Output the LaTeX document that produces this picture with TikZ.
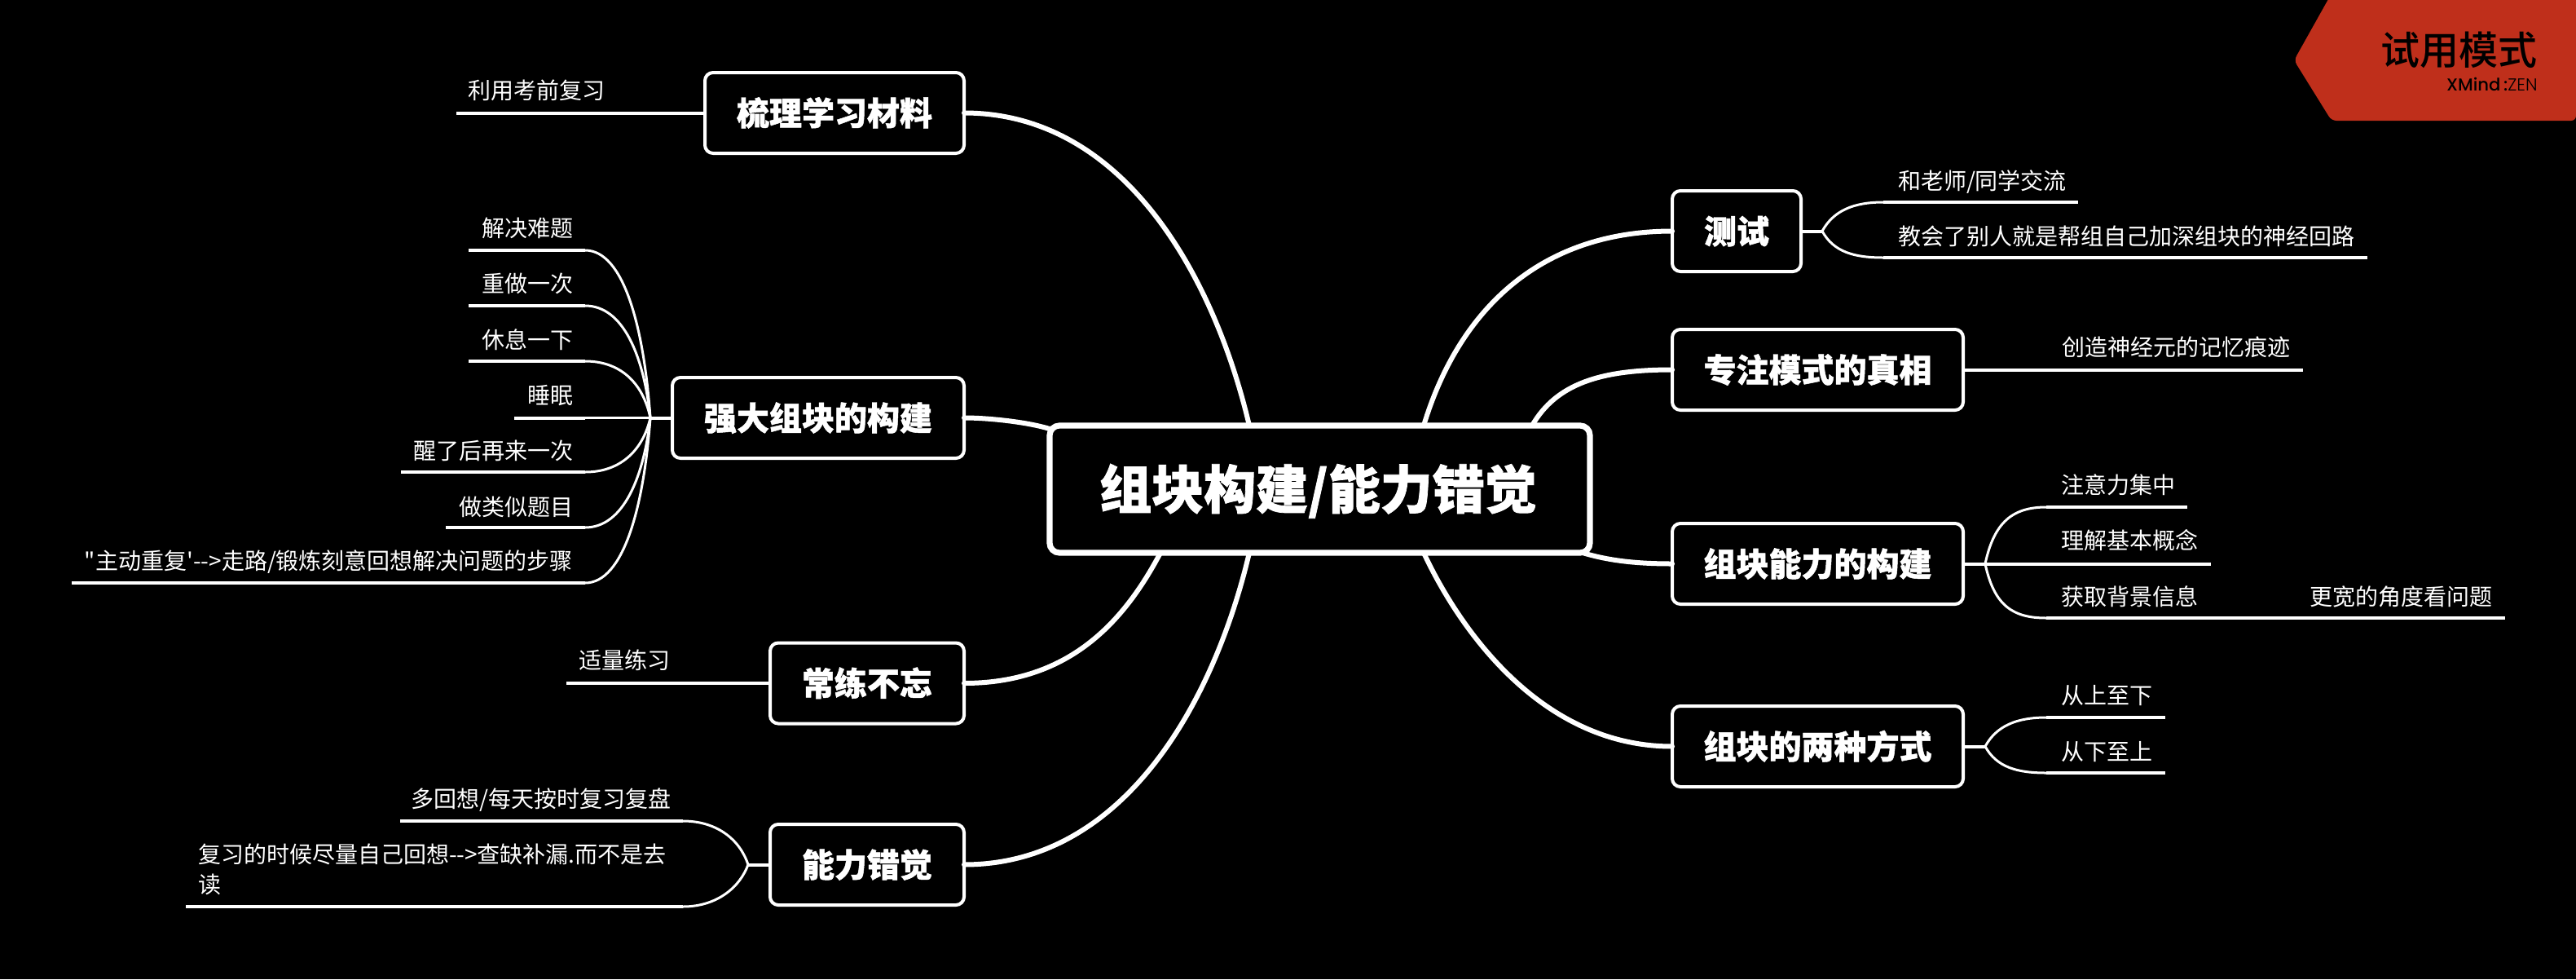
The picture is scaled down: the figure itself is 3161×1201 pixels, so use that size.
\documentclass[tikz,border=0pt]{standalone}
\usepackage{fontspec}
\setmainfont{Noto Sans CJK SC}
\newfontfamily\cjk{Noto Sans CJK SC}
\newfontfamily\cjkm{Noto Sans CJK SC Medium}
\newfontfamily\cjkb[FakeBold=1.2]{Noto Sans CJK SC Black}
\newfontfamily\popb{Poppins Medium}
\newfontfamily\popl{Poppins Light}
\definecolor{badge}{HTML}{BF2F1B}
\tikzset{
  centre/.style={draw=white,fill=black,line width=3.6pt,rounded corners=6pt,inner sep=0pt,outer sep=0pt,
    minimum width=331.5pt,minimum height=78pt,text=white,font=\cjkb\fontsize{32}{36}\selectfont,text height=28pt,text depth=4pt},
  topic/.style={draw=white,fill=black,line width=2pt,rounded corners=5pt,inner sep=0pt,outer sep=0pt,
    minimum height=49.5pt,text=white,font=\cjkb\fontsize{20}{24}\selectfont,text height=17.6pt,text depth=2.4pt},
  leaf/.style={text=white,inner sep=0pt,outer sep=0pt,font=\cjk\fontsize{14}{18.5}\selectfont,text height=12.3pt,text depth=1.7pt},
  link/.style={draw=white,line width=3pt,line cap=round},
  twig/.style={draw=white,line width=1.5pt},
  rule/.style={draw=white,line width=2pt},
}
\begin{document}
\begin{tikzpicture}[x=0.5pt,y=-0.5pt]
\useasboundingbox (0,0) rectangle (3161,1201);
\fill[black] (0,0) rectangle (3161,1201);

% badge
\fill[badge,rounded corners=3pt] (2861,-8) -- (3161,-8) -- (3161,148) -- (2861,148) -- (2815,74) -- cycle;
\node[inner sep=0pt,anchor=east,text=black,font=\cjkm\fontsize{24}{28}\selectfont,text height=21pt,text depth=3pt] (badgetitle) at (3114,61) {试用模式};
\node[inner sep=0pt,anchor=east,text=black,font=\fontsize{10.6}{12}\selectfont] (badgebrand) at (3114,103) {{\popb XMind}{\popb\,:}{\popl ZEN}};

% central and main topics
\node[centre] (c) at (1619.5,600) {\hspace*{-2pt}组块构建/能力错觉};
\node[topic,minimum width=79pt]   (t1) at (2131,283.5)   {测试};
\node[topic,minimum width=178.5pt] (t2) at (2230.5,453.5) {专注模式的真相};
\node[topic,minimum width=178.5pt] (t3) at (2230.5,691.5) {组块能力的构建};
\node[topic,minimum width=178.5pt] (t4) at (2230.5,915.5) {组块的两种方式};
\node[topic,minimum width=159pt]   (l1) at (1024,138.5)   {梳理学习材料};
\node[topic,minimum width=179pt]   (l2) at (1004,512.5)   {强大组块的构建};
\node[topic,minimum width=119pt]   (l3) at (1064,838)     {常练不忘};
\node[topic,minimum width=119pt]   (l4) at (1064,1060.5)  {能力错觉};

% attachment points on the central box
\coordinate (cl1) at (1533,522);
\coordinate (cl2) at (1288,526);
\coordinate (cl3) at (1424,678);
\coordinate (cl4) at (1533,678);
\coordinate (ct1) at (1747,522);
\coordinate (ct2) at (1880,522);
\coordinate (ct3) at (1942,678);
\coordinate (ct4) at (1747,678);

% central connectors
\draw[link] (l1.east) .. controls (1380,138.5) and (1490,340) .. (cl1);
\draw[link] (l2.east) .. controls (1215,512.5) and (1262,518) .. (cl2);
\draw[link] (l3.east) .. controls (1310,838) and (1378,765) .. (cl3);
\draw[link] (l4.east) .. controls (1380,1060.5) and (1490,860) .. (cl4);
\draw[link] (t1.west) .. controls (1890,283.5) and (1790,380) .. (ct1);
\draw[link] (t2.west) .. controls (1965,453.5) and (1910,470) .. (ct2);
\draw[link] (t3.west) .. controls (2010,691.5) and (1975,688) .. (ct3);
\draw[link] (t4.west) .. controls (1890,915.5) and (1790,770) .. (ct4);

% right side leaves
\node[leaf,anchor=west] (a1) at (2329,222) {和老师/同学交流};
\node[leaf,anchor=west] (a2) at (2329,290) {教会了别人就是帮组自己加深组块的神经回路};
\node[leaf,anchor=west] (b1) at (2530,426) {创造神经元的记忆痕迹};
\node[leaf,anchor=west] (d1) at (2529,595) {注意力集中};
\node[leaf,anchor=west] (d2) at (2529,663) {理解基本概念};
\node[leaf,anchor=west] (d3) at (2529,732) {获取背景信息};
\node[leaf,anchor=west] (d4) at (2834,732) {更宽的角度看问题};
\node[leaf,anchor=west] (e1) at (2529,853) {从上至下};
\node[leaf,anchor=west] (e2) at (2529,922) {从下至上};

\coordinate (ja) at (2236,283.5);
\coordinate (jd) at (2436,691.5);
\coordinate (je) at (2436,915.5);
\draw[rule] (t1.east) -- (ja);
\draw[rule] (t3.east) -- (jd);
\draw[rule] (t4.east) -- (je);
\coordinate (a1s) at (2311,248); \coordinate (a1e) at (2550,248);
\coordinate (a2s) at (2311,316); \coordinate (a2e) at (2905,316);
\coordinate (b1e) at (2826,453.5);
\coordinate (d1s) at (2511,622); \coordinate (d1e) at (2684,622);
\coordinate (d2e) at (2713,691.5);
\coordinate (d3s) at (2511,758); \coordinate (d3e) at (3074,758);
\coordinate (e1s) at (2511,880); \coordinate (e1e) at (2657,880);
\coordinate (e2s) at (2511,948); \coordinate (e2e) at (2657,948);
\draw[twig] (ja) .. controls (2250,258) and (2275,248) .. (a1s);
\draw[twig] (ja) .. controls (2250,309) and (2275,316) .. (a2s);
\draw[twig] (jd) .. controls (2447,640) and (2470,622) .. (d1s);
\draw[twig] (jd) .. controls (2447,743) and (2470,758) .. (d3s);
\draw[twig] (je) .. controls (2450,890) and (2475,880) .. (e1s);
\draw[twig] (je) .. controls (2450,941) and (2475,948) .. (e2s);
\draw[rule] (a1s) -- (a1e);
\draw[rule] (a2s) -- (a2e);
\draw[rule] (t2.east) -- (b1e);
\draw[rule] (d1s) -- (d1e);
\draw[rule] (jd) -- (d2e);
\draw[rule] (d3s) -- (d3e);
\draw[rule] (e1s) -- (e1e);
\draw[rule] (e2s) -- (e2e);

% left side leaves
\node[leaf,anchor=east] (f1) at (742,111) {利用考前复习};
\coordinate (f1e) at (560,138.5);
\draw[rule] (l1.west) -- (f1e);

\node[leaf,anchor=east] (g1) at (703,280) {解决难题};
\node[leaf,anchor=east] (g2) at (703,348) {重做一次};
\node[leaf,anchor=east] (g3) at (703,417) {休息一下};
\node[leaf,anchor=east] (g4) at (703,485) {睡眠};
\node[leaf,anchor=east] (g5) at (703,553) {醒了后再来一次};
\node[leaf,anchor=east] (g6) at (703,622) {做类似题目};
\node[leaf,anchor=east] (g7) at (703,688) {"主动重复'-->走路/锻炼刻意回想解决问题的步骤};
\coordinate (jg) at (798,512.5);
\draw[rule] (l2.west) -- (jg);
\coordinate (g1s) at (718,307); \coordinate (g1e) at (575,307);
\coordinate (g2s) at (718,375); \coordinate (g2e) at (575,375);
\coordinate (g3s) at (718,443); \coordinate (g3e) at (575,443);
\coordinate (g4s) at (718,512.5); \coordinate (g4e) at (631,512.5);
\coordinate (g5s) at (718,579); \coordinate (g5e) at (492,579);
\coordinate (g6s) at (718,647); \coordinate (g6e) at (547,647);
\coordinate (g7s) at (718,715); \coordinate (g7e) at (88,715);
\draw[twig] (jg) .. controls (790,400) and (765,307) .. (g1s);
\draw[twig] (jg) .. controls (790,437) and (765,375) .. (g2s);
\draw[twig] (jg) .. controls (790,474) and (765,443) .. (g3s);
\draw[twig] (jg) -- (g4s);
\draw[twig] (jg) .. controls (790,548) and (765,579) .. (g5s);
\draw[twig] (jg) .. controls (790,585) and (765,647) .. (g6s);
\draw[twig] (jg) .. controls (790,622) and (765,715) .. (g7s);
\draw[rule] (g1s) -- (g1e);
\draw[rule] (g2s) -- (g2e);
\draw[rule] (g3s) -- (g3e);
\draw[rule] (g4s) -- (g4e);
\draw[rule] (g5s) -- (g5e);
\draw[rule] (g6s) -- (g6e);
\draw[rule] (g7s) -- (g7e);

\node[leaf,anchor=east] (h1) at (822,810) {适量练习};
\coordinate (h1e) at (695,838);
\draw[rule] (l3.west) -- (h1e);

\node[leaf,anchor=east] (k1) at (823,980) {多回想/每天按时复习复盘};
\node[text=white,inner sep=0pt,outer sep=0pt,anchor=west,align=left,font=\cjk\fontsize{14}{18.5}\selectfont] (k2) at (243,1066) {复习的时候尽量自己回想-->查缺补漏.而不是去\\读};
\coordinate (jk) at (918,1060.5);
\draw[rule] (l4.west) -- (jk);
\coordinate (k1s) at (838,1007); \coordinate (k1e) at (491,1007);
\coordinate (k2s) at (838,1112); \coordinate (k2e) at (228,1112);
\draw[twig] (jk) .. controls (908,1030) and (880,1007) .. (k1s);
\draw[twig] (jk) .. controls (908,1088) and (880,1112) .. (k2s);
\draw[rule] (k1s) -- (k1e);
\draw[rule] (k2s) -- (k2e);
\end{tikzpicture}
\end{document}
